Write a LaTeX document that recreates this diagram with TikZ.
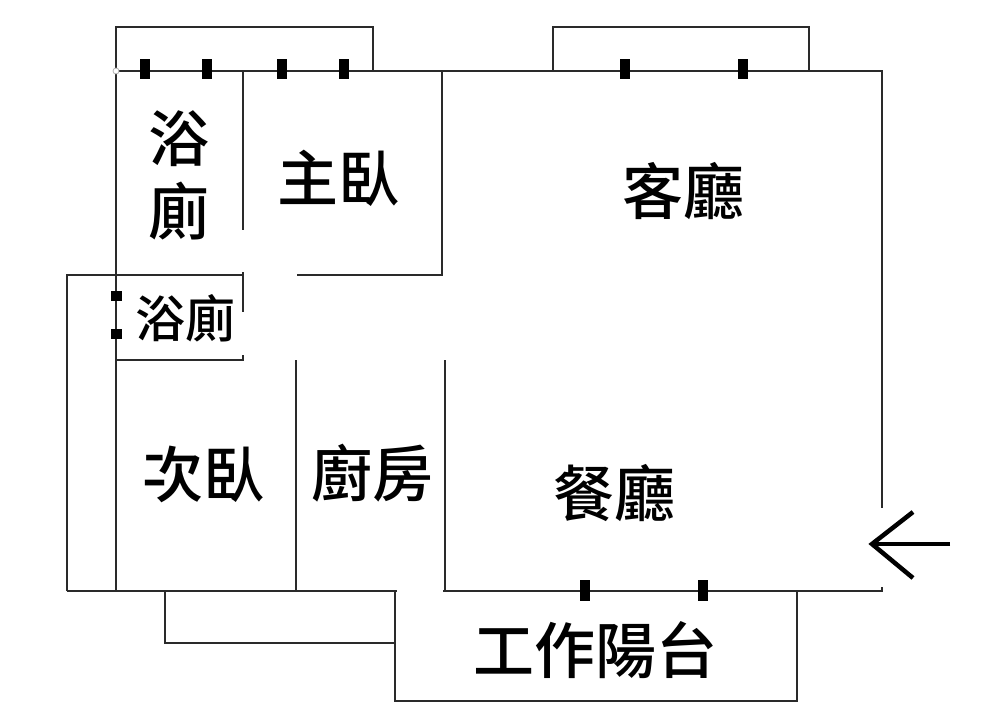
\documentclass[tikz,border=0pt]{standalone}
\usepackage{fontspec}
\setmainfont{Noto Sans CJK TC}[BoldFont={* Medium}]
\definecolor{wallc}{HTML}{2A2A2A}
\tikzset{
  wall/.style={draw=wallc,line width=2.4pt,line cap=butt,line join=miter},
  tick/.style={fill=black,draw=none},
  roomlabel/.style={inner sep=0pt,font=\bfseries\fontsize{61}{64}\selectfont,text=black},
  smalllabel/.style={inner sep=0pt,font=\bfseries\fontsize{50}{52}\selectfont,text=black}
}
\begin{document}
\begin{tikzpicture}[x=1pt,y=-1pt]
\useasboundingbox[fill=white] (0,0) rectangle (1000,721);
% outer walls and balconies
\draw[wall] (116,71) -- (116,27) -- (373,27) -- (373,71);
\draw[wall] (553,71) -- (553,27) -- (809,27) -- (809,71);
\draw[wall] (116,71) -- (882,71) -- (882,508);
\draw[wall] (116,71) -- (116,591);
\draw[wall] (67,591) -- (67,275) -- (243,275);
\draw[wall] (243,71) -- (243,230);
\draw[wall] (243,272) -- (243,312);
\draw[wall] (116,360) -- (243,360) -- (243,355);
\draw[wall] (297,275) -- (442,275) -- (442,71);
\draw[wall] (296,360) -- (296,591);
\draw[wall] (445,360) -- (445,591);
\draw[wall] (443,591) -- (882,591) -- (882,587);
\draw[wall] (67,591) -- (397,591);
\draw[wall] (165,591) -- (165,643) -- (395,643);
\draw[wall] (395,591) -- (395,701) -- (797,701) -- (797,591);
% windows
\foreach \x in {145,207,282,344,625,743}
  \fill[tick] (\x-5,59) rectangle (\x+5,79);
\foreach \x in {585,703}
  \fill[tick] (\x-5,580) rectangle (\x+5,601);
\foreach \y in {296,334}
  \fill[tick] (111,\y-5) rectangle (122,\y+5);
\draw[gray!60,fill=white,line width=0.8pt] (116,71) circle (3);
% labels
\node[roomlabel] (bathA) at (179,139) {浴};
\node[roomlabel] (bathB) at (179,211) {廁};
\node[roomlabel] (master) at (338,178) {主臥};
\node[roomlabel] (living) at (683,191) {客廳};
\node[smalllabel] (bathC) at (185,318) {浴廁};
\node[roomlabel] (second) at (203,474) {次臥};
\node[roomlabel] (kitchen) at (372,473) {廚房};
\node[roomlabel] (dining) at (614,493) {餐廳};
\node[roomlabel] (balcony) at (595,650) {工作陽台};
% entrance arrow
\coordinate (tail) at (950,544);
\coordinate (tip) at (872,544);
\coordinate (barbA) at (913,512);
\coordinate (barbB) at (913,578);
\draw[black,line width=4.5pt] (tail) -- (tip);
\draw[black,line width=4.5pt] (barbA) -- (tip) -- (barbB);
\end{tikzpicture}
\end{document}
